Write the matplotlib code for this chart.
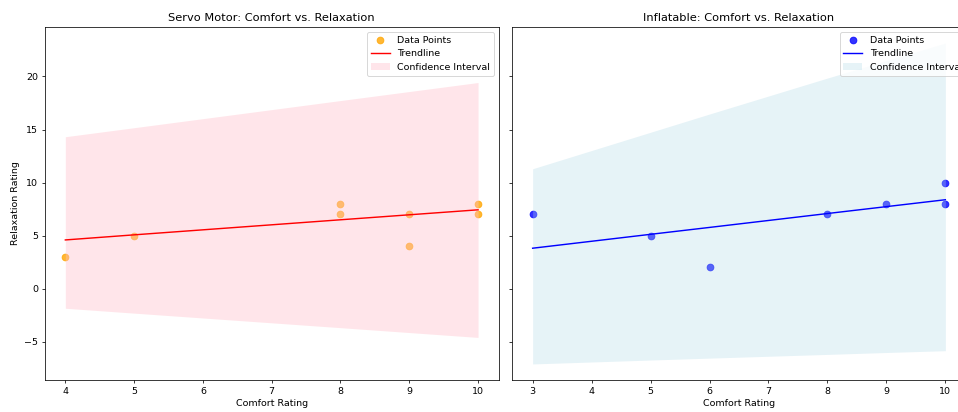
import numpy as np
import matplotlib.pyplot as plt

# === DATA ===
servo_comfort = [4, 5, 8, 8, 9, 9, 10, 10]
servo_relax = [3, 5, 8, 7, 7, 4, 8, 7]
servo_x = [4, 5, 8, 9, 10]
servo_trend = [4.59, 5.07, 6.49, 6.96, 7.43]
servo_ci_low = [-1.85, -2.31, -3.68, -4.14, -4.6]
servo_ci_high = [14.32, 15.17, 17.73, 18.58, 19.43]

infl_comfort = [3, 5, 6, 8, 9, 10, 10]
infl_relax = [7, 5, 2, 7, 8, 10, 8]
infl_x = [3, 5, 6, 8, 9, 10]
infl_trend = [3.81, 5.12, 5.77, 7.08, 7.73, 8.38]
infl_ci_low = [-7.1, -6.73, -6.55, -6.2, -6.02, -5.85]
infl_ci_high = [11.3, 14.74, 16.46, 19.85, 21.5, 23.15]

# === FIGURE ===
W, H = 958, 412
dpi = 958 / 14
fig = plt.figure(figsize=(W / dpi, H / dpi), dpi=dpi)
ax1 = fig.add_axes([44.7 / W, 32 / H, 454 / W, 353 / H])
ax2 = fig.add_axes([512 / W, 32 / H, 454 / W, 353 / H], sharey=ax1)

# Servo Motor
ax1.scatter(servo_comfort, servo_relax, color='orange', alpha=0.8, s=50, label='Data Points')
ax1.plot(servo_x, servo_trend, color='red', label='Trendline')
ax1.fill_between(servo_x, servo_ci_low, servo_ci_high, color='pink', alpha=0.4,
                 linewidth=0, label='Confidence Interval')
ax1.set_title('Servo Motor: Comfort vs. Relaxation', fontsize=12)
ax1.set_xlabel('Comfort Rating')
ax1.set_ylabel('Relaxation Rating')
ax1.legend(loc='upper right')

# Inflatable (legend runs past the right edge, as in the original)
ax2.scatter(infl_comfort, infl_relax, color='blue', alpha=0.8, s=50, label='Data Points')
ax2.plot(infl_x, infl_trend, color='blue', label='Trendline')
ax2.fill_between(infl_x, infl_ci_low, infl_ci_high, color='lightblue', alpha=0.3,
                 linewidth=0, label='Confidence Interval')
ax2.set_title('Inflatable: Comfort vs. Relaxation', fontsize=12)
ax2.set_xlabel('Comfort Rating')
ax2.tick_params(labelleft=False)
ax2.legend(loc='upper right', bbox_to_anchor=(1.012, 1))

fig.savefig('out.png', dpi=dpi)
